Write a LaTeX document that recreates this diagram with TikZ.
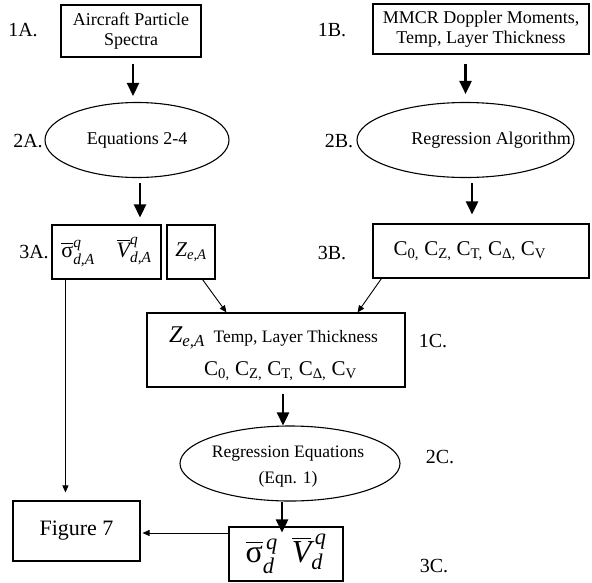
\documentclass[tikz,border=0pt]{standalone}
\usepackage{amsmath}
\usepackage{fontspec}
\setmainfont{Liberation Serif}
\usetikzlibrary{arrows.meta,shapes.geometric}
\newcommand{\myit}[1]{\text{\itshape #1}}
\newcommand{\cvals}{C\textsubscript{0,} C\textsubscript{Z,} C\textsubscript{T,} C\textsubscript{Δ,} C\textsubscript{V}}
\begin{document}
\begin{tikzpicture}[x=1pt,y=-1pt,
  box/.style={draw,line width=1.1pt,inner sep=0pt},
  ell/.style={draw,ellipse,line width=1.1pt,inner sep=0pt},
  bigarrow/.style={line width=2.6pt,-{Triangle[width=12pt,length=13pt]}},
  thinarrow/.style={line width=0.9pt,-{Triangle[width=6pt,length=7pt]}},
  lab/.style={font=\fontsize{20}{24}\selectfont},
  txt/.style={font=\fontsize{18}{20}\selectfont,align=center}]
\useasboundingbox (0,0) rectangle (592,582);

% boxes and ellipses
\node[box,txt,minimum width=140pt,minimum height=52pt] (a1) at (131,31) {Aircraft Particle\\Spectra};
\node[box,txt,minimum width=216pt,minimum height=50pt] (b1) at (481,29) {MMCR Doppler Moments,\\Temp, Layer Thickness};
\node[ell,txt,minimum width=184pt,minimum height=75pt] (a2) at (137,140) {Equations 2-4};
\node[ell,minimum width=217pt,minimum height=75pt] (b2) at (465.5,140) {};
\node[txt] (b2t) at (491,140) {Regression Algorithm};
\node[box,minimum width=109pt,minimum height=54pt,font=\fontsize{22}{26}\selectfont] (a3) at (106.5,252)
  {$\overline{\text{σ}}^{\myit{q}}_{\myit{d,A}}\quad\overline{\myit{V}}^{\myit{q}}_{\myit{d,A}}$};
\node[box,minimum width=48pt,minimum height=54pt,font=\fontsize{21}{26}\selectfont] (z3) at (191,252)
  {$\myit{Z}_{\myit{e,A}}$};
\node[box,minimum width=216pt,minimum height=54pt] (b3) at (481,251) {};
\node[anchor=west,font=\fontsize{21}{24}\selectfont] (b3t) at (390,251) {\cvals};
\node[box,minimum width=258pt,minimum height=74pt] (c1) at (276,350) {};
\node[font=\fontsize{17.5}{20}\selectfont] (c1t) at (273.5,338)
  {{\fontsize{24}{26}\selectfont$\myit{Z}_{\myit{e,A}}$}\ \ Temp, Layer Thickness};
\node[font=\fontsize{21}{24}\selectfont] (c1u) at (280.5,371) {\cvals};
\node[ell,minimum width=220pt,minimum height=75pt] (c2) at (290,463.5) {};
\node[font=\fontsize{17.5}{26}\selectfont,align=center] (c2t) at (288,467) {Regression Equations\\(Eqn. 1)};
\node[box,minimum width=114pt,minimum height=54pt,font=\fontsize{32}{36}\selectfont] (c3) at (286,554)
  {$\overline{\text{σ}}^{\,\myit{q}}_{\myit{d}}\;\;\overline{\myit{V}}^{\,\myit{q}}_{\myit{d}}$};
\node[box,minimum width=127pt,minimum height=60pt,font=\fontsize{22}{26}\selectfont] (f7) at (76.5,531) {Figure 7};

% step labels
\node[lab] (l1a) at (23,30) {1A.};
\node[lab] (l1b) at (332,30) {1B.};
\node[lab] (l2a) at (28,141) {2A.};
\node[lab] (l2b) at (339,141) {2B.};
\node[lab] (l3a) at (34,252) {3A.};
\node[lab] (l3b) at (332,253) {3B.};
\node[lab] (l1c) at (433,341) {1C.};
\node[lab] (l2c) at (440,457) {2C.};
\node[lab] (l3c) at (434,566) {3C.};

% main flow arrows
\draw[bigarrow,shorten <=6pt,shorten >=6pt] ([xshift=2pt]a1.south) -- ([xshift=2pt]a1.south |- a2.north);
\draw[bigarrow,shorten <=5pt,shorten >=7pt] ([xshift=3pt]a2.south) -- ([xshift=3pt]a2.south |- a3.north);
\draw[bigarrow,shorten <=9pt,shorten >=8pt] (b2.north |- b1.south) -- (b2.north);
\draw[bigarrow,shorten <=5pt,shorten >=9pt] ([xshift=6.5pt]b2.south) -- ([xshift=6.5pt]b2.south |- b3.north);
\draw[bigarrow,shorten <=6pt] ([xshift=-7pt]c2.north |- c1.south) -- ([xshift=-7pt]c2.north);
\draw[bigarrow,shorten >=-6pt] ([xshift=-8pt]c2.south) -- ([xshift=-8pt]c2.south |- c3.north);

% thin arrows
\draw[thinarrow] ([xshift=-13pt]z3.south east) -- ([xshift=80pt]c1.north west);
\draw[thinarrow] ([xshift=9pt]b3.south west) -- ([xshift=-48pt]c1.north east);
\draw[thinarrow,shorten >=8pt] ([xshift=14pt]a3.south west) -- ([xshift=14pt]a3.south west |- f7.north);
\draw[thinarrow,shorten >=2pt] ([yshift=21pt]c3.west) -- ([yshift=21pt]c3.west -| f7.east);
\end{tikzpicture}
\end{document}
